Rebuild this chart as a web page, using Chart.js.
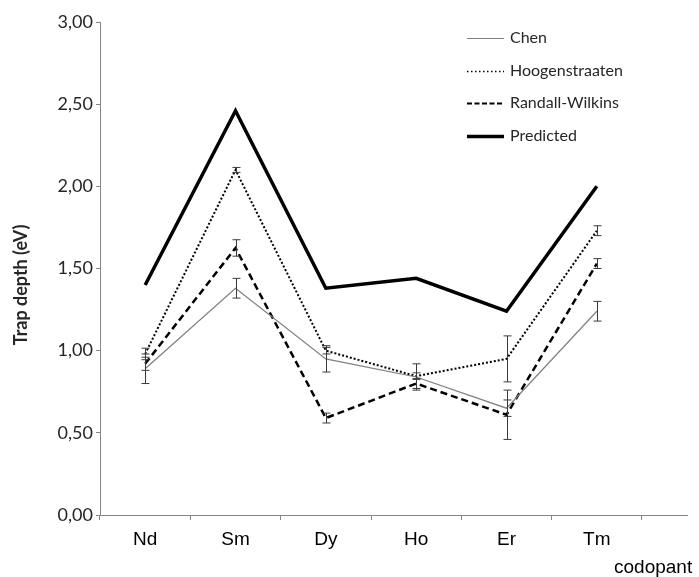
<!DOCTYPE html>
<html lang="en">
<head>
<meta charset="UTF-8">
<title>Trap depth per codopant</title>
<script src="https://cdn.jsdelivr.net/npm/chart.js@4"></script>
<style>
  html, body { margin: 0; padding: 0; background: #fff; overflow: hidden; }
  #wrap { width: 699px; height: 577px; }
</style>
</head>
<body>
<div id="wrap"><canvas id="trapChart" width="699" height="577"></canvas></div>
<script>
  // codopants on the x axis
  const categories = ['Nd', 'Sm', 'Dy', 'Ho', 'Er', 'Tm'];

  // trap depths (eV) and their error bars
  const chen = [0.89, 1.38, 0.95, 0.84, 0.65, 1.24];
  const chenErr = [0.09, 0.06, 0.08, 0.08, 0.05, 0.06];
  const hoogenstraaten = [0.98, 2.10, 1.00, 0.845, 0.95, 1.73];
  const hoogenstraatenErr = [0.035, 0.015, 0.02, 0.02, 0.14, 0.03];
  const randallWilkins = [0.92, 1.625, 0.59, 0.80, 0.61, 1.53];
  const randallWilkinsErr = [0.04, 0.05, 0.03, 0.03, 0.15, 0.03];
  const predicted = [1.40, 2.46, 1.38, 1.44, 1.24, 2.00];

  const yTicks = [0, 0.5, 1, 1.5, 2, 2.5, 3];

  const axisGrey = '#868686';
  const textDark = '#262626';

  // error bars drawn over each series
  const errorBars = {
    id: 'errorBars',
    afterDatasetsDraw(chart) {
      const ctx = chart.ctx;
      const y = chart.scales.y;
      ctx.save();
      ctx.strokeStyle = '#3a3a3a';
      ctx.lineWidth = 1;
      chart.data.datasets.forEach((ds, i) => {
        if (!ds.errors) return;
        const meta = chart.getDatasetMeta(i);
        meta.data.forEach((pt, j) => {
          const v = ds.data[j], e = ds.errors[j];
          const x = Math.round(pt.x) + 0.5;
          const top = y.getPixelForValue(v + e);
          const bot = y.getPixelForValue(v - e);
          ctx.beginPath();
          ctx.moveTo(x, top); ctx.lineTo(x, bot);
          ctx.moveTo(x - 4, top); ctx.lineTo(x + 4, top);
          ctx.moveTo(x - 4, bot); ctx.lineTo(x + 4, bot);
          ctx.stroke();
        });
      });
      ctx.restore();
    }
  };

  // legend inside the plot, axis extension and axis titles
  const decorations = {
    id: 'decorations',
    afterDraw(chart) {
      const ctx = chart.ctx;
      const area = chart.chartArea;
      ctx.save();

      // x axis runs on past the last category
      ctx.strokeStyle = axisGrey;
      ctx.lineWidth = 1;
      ctx.beginPath();
      ctx.moveTo(area.right, Math.round(area.bottom) + 0.5);
      ctx.lineTo(688, Math.round(area.bottom) + 0.5);
      ctx.stroke();

      // legend
      const rows = [38, 71, 103, 136];
      chart.data.datasets.forEach((ds, i) => {
        const ly = rows[i] + 0.5;
        ctx.strokeStyle = ds.borderColor;
        ctx.lineWidth = ds.legendWidth || ds.borderWidth;
        ctx.setLineDash(ds.legendDash || ds.borderDash || []);
        ctx.beginPath();
        ctx.moveTo(467, ly);
        ctx.lineTo(504, ly);
        ctx.stroke();
        ctx.setLineDash([]);
        ctx.fillStyle = textDark;
        ctx.font = '16px Lato';
        ctx.textBaseline = 'middle';
        ctx.textAlign = 'left';
        ctx.fillText(ds.label, 510, rows[i]);
      });

      // y title
      ctx.save();
      ctx.translate(21, 285);
      ctx.rotate(-Math.PI / 2);
      ctx.font = 'bold 18px Lato';
      ctx.textAlign = 'center';
      ctx.textBaseline = 'middle';
      ctx.fillStyle = textDark;
      ctx.fillText('Trap depth (eV)', 0, 0);
      ctx.restore();

      // x title
      ctx.font = '19px "Liberation Sans"';
      ctx.fillStyle = '#000';
      ctx.textAlign = 'left';
      ctx.textBaseline = 'middle';
      ctx.fillText('codopant', 614, 568);

      ctx.restore();
    }
  };

  new Chart(document.getElementById('trapChart'), {
    type: 'line',
    data: {
      labels: categories,
      datasets: [
        { label: 'Chen', data: chen, errors: chenErr, borderColor: '#7f7f7f', borderWidth: 1.2 },
        { label: 'Hoogenstraaten', data: hoogenstraaten, errors: hoogenstraatenErr, borderColor: '#000', borderWidth: 2, borderDash: [2, 2], legendWidth: 1.3, legendDash: [1.5, 2.5] },
        { label: 'Randall-Wilkins', data: randallWilkins, errors: randallWilkinsErr, borderColor: '#000', borderWidth: 2.5, borderDash: [7, 4], legendWidth: 2, legendDash: [5, 2.5] },
        { label: 'Predicted', data: predicted, borderColor: '#000', borderWidth: 3.5 }
      ]
    },
    options: {
      responsive: false,
      animation: false,
      devicePixelRatio: 1,
      layout: { padding: { top: 22, right: 57, left: 0, bottom: 0 } },
      elements: {
        point: { radius: 0 },
        line: { tension: 0, fill: false, borderCapStyle: 'butt', borderJoinStyle: 'miter' }
      },
      plugins: {
        legend: { display: false },
        tooltip: { enabled: false }
      },
      scales: {
        x: {
          type: 'category',
          offset: true,
          afterFit(s) { s.height = 62; },
          border: { color: axisGrey, width: 1 },
          grid: { drawOnChartArea: false, drawTicks: true, tickLength: 5, color: axisGrey, offset: true },
          ticks: { color: '#000', font: { family: 'Liberation Sans', size: 19 }, padding: 8, maxRotation: 0 }
        },
        y: {
          min: 0,
          max: 3,
          afterFit(s) { s.width = 100; },
          afterBuildTicks(s) { s.ticks = yTicks.map(v => ({ value: v })); },
          border: { color: axisGrey, width: 1 },
          grid: { drawOnChartArea: false, drawTicks: true, tickLength: 4, color: axisGrey },
          ticks: {
            color: textDark,
            font: { family: 'Lato', size: 18 },
            padding: 3,
            callback: v => v.toFixed(2).replace('.', ',')
          }
        }
      }
    },
    plugins: [errorBars, decorations]
  });
</script>
</body>
</html>
